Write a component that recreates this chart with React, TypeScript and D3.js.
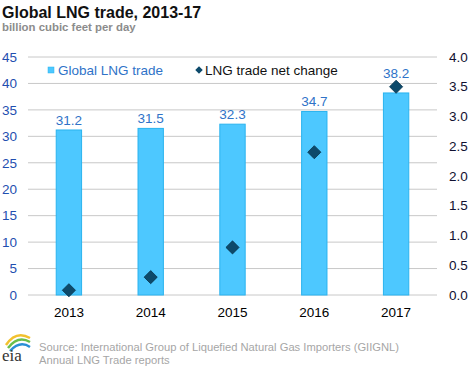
import React from 'react';
import * as d3 from 'd3';

const years = ['2013', '2014', '2015', '2016', '2017'];
const lngTrade = [31.2, 31.5, 32.3, 34.7, 38.2];
const netChange = [0.08, 0.3, 0.8, 2.4, 3.5];
const leftTicks = [0, 5, 10, 15, 20, 25, 30, 35, 40, 45];
const rightTicks = [0, 0.5, 1, 1.5, 2, 2.5, 3, 3.5, 4];

const W = 468;
const H = 366;
const margin = { top: 57, right: 31, bottom: 71, left: 28 };
const font = 'Arial, "Liberation Sans", sans-serif';

export default function App() {
  const innerW = W - margin.left - margin.right;
  const innerH = H - margin.top - margin.bottom;

  const x = d3.scaleBand().domain(years).range([0, innerW]).paddingInner(0.69).paddingOuter(0.345);
  const yL = d3.scaleLinear().domain([0, 45]).range([innerH, 0]);
  const yR = d3.scaleLinear().domain([0, 4]).range([innerH, 0]);

  const diamond = d3.symbol().type(d3.symbolDiamond2).size(110)();

  // value label sits above the bar, or above the diamond if that one is in the way
  const labelY = (i: number) => {
    const top = yL(lngTrade[i]) - 5;
    const dy = yR(netChange[i]);
    return Math.abs(dy - yL(lngTrade[i])) < 12 ? Math.min(top, dy - 9) : top;
  };

  return (
    <svg width={W} height={H} style={{ position: 'absolute', left: 0, top: 0, background: '#fff' }} fontFamily={font}>
      <text x={2} y={18} fontSize={16} fontWeight="bold" fill="#111">Global LNG trade, 2013-17</text>
      <text x={2} y={31} fontSize={11.4} fontWeight="bold" fill="#8c8c8c">billion cubic feet per day</text>

      <g transform={`translate(${margin.left},${margin.top})`}>
        {leftTicks.map(t => (
          <line key={t} x1={0} x2={innerW} y1={yL(t)} y2={yL(t)} stroke="#c8c8c8" strokeWidth={1} />
        ))}
        {leftTicks.map(t => (
          <text key={'l' + t} x={-11} y={yL(t)} dy="0.35em" textAnchor="end" fontSize={13.5} fill="#1f4fb0">{t}</text>
        ))}
        {rightTicks.map(t => (
          <text key={'r' + t} x={innerW + 12} y={yR(t)} dy="0.35em" fontSize={13.5} fill="#101030">{t.toFixed(1)}</text>
        ))}
        {years.map((yr, i) => (
          <g key={yr}>
            <rect x={x(yr)!} y={yL(lngTrade[i])} width={x.bandwidth()} height={innerH - yL(lngTrade[i])}
              fill="#4dc8ff" stroke="#2ab3ef" strokeWidth={1} />
            <text x={x(yr)! + x.bandwidth() / 2} y={labelY(i)} textAnchor="middle" fontSize={13.5} fill="#2f73c8">
              {lngTrade[i].toFixed(1)}
            </text>
            <text x={x(yr)! + x.bandwidth() / 2} y={innerH + 22} textAnchor="middle" fontSize={13.5} fill="#000">{yr}</text>
          </g>
        ))}
        {years.map((yr, i) => (
          <path key={'d' + yr} d={diamond!} transform={`translate(${x(yr)! + x.bandwidth() / 2},${yR(netChange[i])})`}
            fill="#0d4a6b" stroke="#06334d" strokeWidth={0.8} />
        ))}
      </g>

      <g>
        <rect x={48} y={67} width={6} height={6} fill="#4dc8ff" stroke="#2ab3ef" strokeWidth={0.5} />
        <text x={58} y={70} dy="0.35em" fontSize={13.5} fill="#2f73c8">Global LNG trade</text>
        <path d={d3.symbol().type(d3.symbolDiamond2).size(36)()!} transform="translate(199,70)" fill="#0d4a6b" />
        <text x={205} y={70} dy="0.35em" fontSize={13.5} fill="#111">LNG trade net change</text>
      </g>

      <g>
        <path d="M6,345 Q16,330 30,338" fill="none" stroke="#f2c12e" strokeWidth={2.5} />
        <path d="M8,348 Q18,335 30,342" fill="none" stroke="#6abf4b" strokeWidth={2.5} />
        <path d="M10,351 Q20,340 30,347" fill="none" stroke="#2a8fd6" strokeWidth={2.5} />
        <text x={2} y={361} fontSize={17} fontFamily="'Liberation Serif', 'DejaVu Serif', serif" fill="#333">eia</text>
      </g>
      <text x={39} y={351} fontSize={11.2} fill="#a6a6a6">Source: International Group of Liquefied Natural Gas Importers (GIIGNL)</text>
      <text x={39} y={364} fontSize={11.2} fill="#a6a6a6">Annual LNG Trade reports</text>
    </svg>
  );
}
